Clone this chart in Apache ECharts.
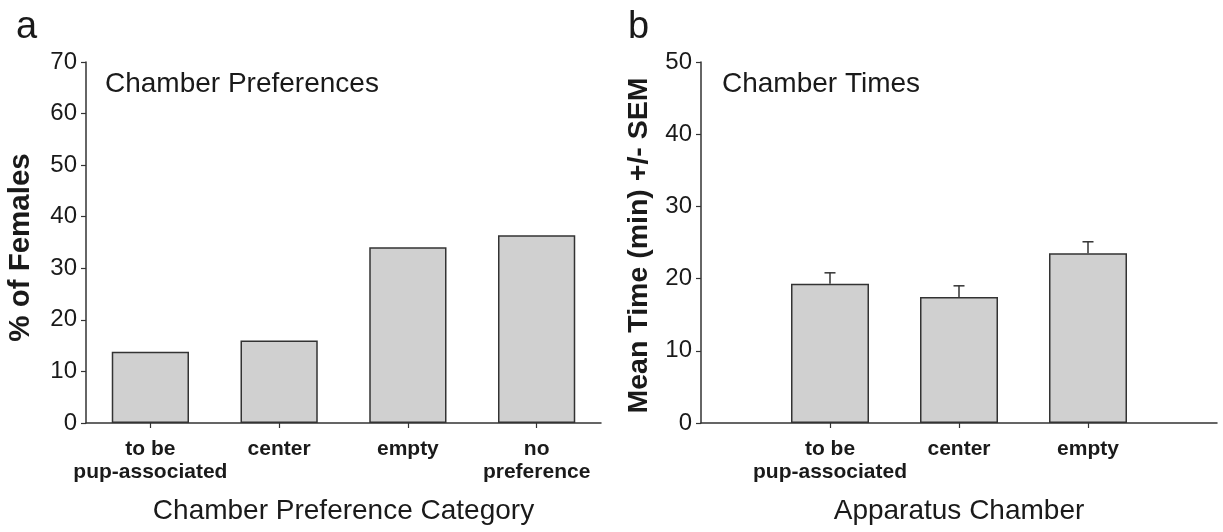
<!DOCTYPE html>
<html>
<head>
<meta charset="utf-8">
<script src="https://cdn.jsdelivr.net/npm/echarts@6/dist/echarts.min.js"></script>
<style>html,body{margin:0;padding:0;background:#fff}#c{width:1223px;height:532px}</style>
</head>
<body>
<div id="c"></div>
<script>
// ---- data ----
const catsA = ['to be\npup-associated', 'center', 'empty', 'no\npreference'];
const pctFemales = [13.8, 16.0, 34.1, 36.4];
const catsB = ['to be\npup-associated', 'center', 'empty'];
const meanTime = [19.3, 17.45, 23.5];
const semTime = [1.5, 1.55, 1.6];
const panelLetters = ['a', 'b'];
const panelTitles = ['Chamber Preferences', 'Chamber Times'];
const yNames = ['% of Females', 'Mean Time (min) +/- SEM'];
const xNames = ['Chamber Preference Category', 'Apparatus Chamber'];

// ---- style ----
const FONT = '"Liberation Sans", Arial, Helvetica, sans-serif';
const TXT = '#1a1a1a';
const LINE = '#333';
const FILL = '#d0d0d0';

const chart = echarts.init(document.getElementById('c'), null, {renderer: 'canvas'});

const axisLineCommon = {show: true, lineStyle: {color: LINE, width: 1.5}};
const axisTickCommon = {show: true, length: 5, lineStyle: {color: LINE, width: 1.2}};
const yLabel = {color: TXT, fontFamily: FONT, fontSize: 24, margin: 9};
const xLabel = {color: TXT, fontFamily: FONT, fontSize: 21, fontWeight: 'bold', margin: 15, lineHeight: 23};
const xNameStyle = {color: TXT, fontFamily: FONT, fontSize: 28};

const option = {
  animation: false,
  backgroundColor: '#fff',
  textStyle: {fontFamily: FONT},
  grid: [
    {left: 86, top: 62, width: 515, height: 361},
    {left: 701, top: 62, width: 516, height: 361}
  ],
  graphic: [
    {type: 'text', left: 16, top: 9, style: {text: panelLetters[0], font: '38px ' + FONT, fill: TXT}},
    {type: 'text', left: 628, top: 9, style: {text: panelLetters[1], font: '38px ' + FONT, fill: TXT}},
    {type: 'text', left: 105, top: 70, style: {text: panelTitles[0], font: '28px ' + FONT, fill: TXT}},
    {type: 'text', left: 722, top: 70, style: {text: panelTitles[1], font: '28px ' + FONT, fill: TXT}}
  ],
  xAxis: [
    {
      gridIndex: 0, type: 'category', data: catsA, boundaryGap: true,
      axisLine: axisLineCommon, axisTick: Object.assign({alignWithLabel: true}, axisTickCommon),
      axisLabel: Object.assign({interval: 0}, xLabel), splitLine: {show: false},
      name: xNames[0], nameLocation: 'middle', nameGap: 74, nameTextStyle: xNameStyle
    },
    {
      gridIndex: 1, type: 'value', min: 0, max: 4, interval: 1,
      axisLine: axisLineCommon,
      axisTick: Object.assign({customValues: [1, 2, 3]}, axisTickCommon),
      axisLabel: Object.assign({customValues: [1, 2, 3], formatter: v => catsB[Math.round(v) - 1] || ''}, xLabel),
      splitLine: {show: false},
      name: xNames[1], nameLocation: 'middle', nameGap: 74, nameTextStyle: xNameStyle
    }
  ],
  yAxis: [
    {
      gridIndex: 0, type: 'value', min: 0, max: 70, interval: 10,
      axisLine: axisLineCommon, axisTick: axisTickCommon, axisLabel: yLabel, splitLine: {show: false},
      name: yNames[0], nameLocation: 'middle', nameRotate: 90, nameGap: 50,
      nameTextStyle: {color: TXT, fontFamily: FONT, fontSize: 29.5, fontWeight: 'bold', padding: [0, 10, 0, 0]}
    },
    {
      gridIndex: 1, type: 'value', min: 0, max: 50, interval: 10,
      axisLine: axisLineCommon, axisTick: axisTickCommon, axisLabel: yLabel, splitLine: {show: false},
      name: yNames[1], nameLocation: 'middle', nameRotate: 90, nameGap: 47,
      nameTextStyle: {color: TXT, fontFamily: FONT, fontSize: 28.5, fontWeight: 'bold', padding: [0, 6, 0, 0]}
    }
  ],
  series: [
    {
      type: 'bar', xAxisIndex: 0, yAxisIndex: 0, data: pctFemales, barWidth: '60%',
      itemStyle: {color: FILL, borderColor: LINE, borderWidth: 1.5}
    },
    {
      type: 'bar', xAxisIndex: 1, yAxisIndex: 1, barWidth: 78,
      data: meanTime.map((v, i) => [i + 1, v]),
      itemStyle: {color: FILL, borderColor: LINE, borderWidth: 1.5}
    },
    {
      type: 'custom', xAxisIndex: 1, yAxisIndex: 1, z: 1,
      data: meanTime.map((v, i) => [i + 1, v, v + semTime[i]]),
      renderItem: function (params, api) {
        const top = api.coord([api.value(0), api.value(2)]);
        const base = api.coord([api.value(0), api.value(1)]);
        const hw = 5.5;
        return {
          type: 'group',
          children: [
            {type: 'line', shape: {x1: base[0], y1: base[1], x2: top[0], y2: top[1]}, style: {stroke: LINE, lineWidth: 1.5}},
            {type: 'line', shape: {x1: top[0] - hw, y1: top[1], x2: top[0] + hw, y2: top[1]}, style: {stroke: LINE, lineWidth: 1.5}}
          ]
        };
      }
    }
  ]
};
chart.setOption(option);
</script>
</body>
</html>
